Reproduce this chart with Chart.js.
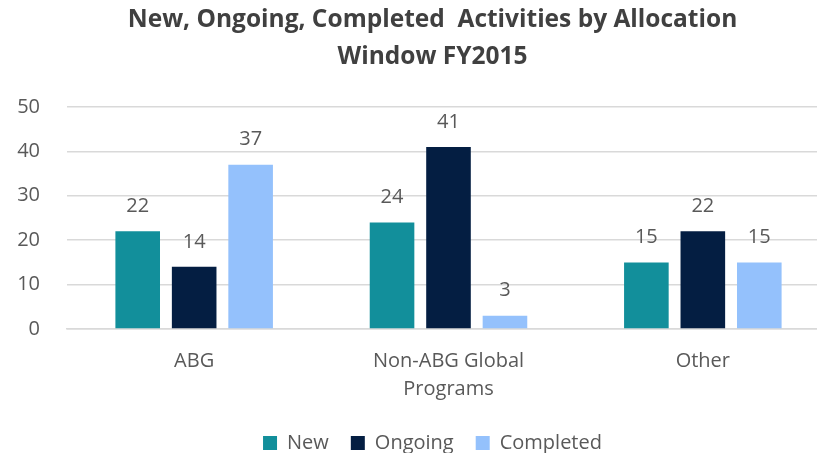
<!DOCTYPE html>
<html>
<head>
<meta charset="utf-8">
<script src="https://cdn.jsdelivr.net/npm/chart.js@4"></script>
<style>
  html, body { margin: 0; padding: 0; background: #ffffff; overflow: hidden; }
  #wrap { width: 817px; height: 453px; overflow: hidden; }
</style>
</head>
<body>
<div id="wrap"><canvas id="chart" width="865" height="453"></canvas></div>
<script>
// data
const categories = ['ABG', ['Non-ABG Global', 'Programs'], 'Other'];
const seriesNames = ['New', 'Ongoing', 'Completed'];
const newValues = [22, 24, 15];
const ongoingValues = [14, 41, 22];
const completedValues = [37, 3, 15];
const yTicks = [0, 10, 20, 30, 40, 50];

const colors = ['#128f9b', '#041e42', '#94c1fc'];
const textGray = '#595959';
const fontFamily = "'Open Sans', sans-serif";

// value labels above the bars
const barLabels = {
    id: 'barLabels',
    afterDatasetsDraw(chart) {
        const ctx = chart.ctx;
        ctx.save();
        ctx.fillStyle = textGray;
        ctx.font = '20px ' + fontFamily;
        ctx.textAlign = 'center';
        ctx.textBaseline = 'middle';
        chart.data.datasets.forEach((ds, i) => {
            chart.getDatasetMeta(i).data.forEach((bar, j) => {
                ctx.fillText(ds.data[j], bar.x, bar.y - 25);
            });
        });
        ctx.restore();
    }
};

new Chart(document.getElementById('chart'), {
    type: 'bar',
    data: {
        labels: categories,
        datasets: [
            { label: seriesNames[0], data: newValues, backgroundColor: colors[0] },
            { label: seriesNames[1], data: ongoingValues, backgroundColor: colors[1] },
            { label: seriesNames[2], data: completedValues, backgroundColor: colors[2] }
        ]
    },
    options: {
        responsive: false,
        animation: false,
        categoryPercentage: 0.666,
        barPercentage: 0.79,
        layout: { padding: { left: 0, right: 0, top: 0, bottom: -10 } },
        plugins: {
            title: {
                display: true,
                text: ['New, Ongoing, Completed  Activities by Allocation', 'Window FY2015'],
                color: '#404040',
                font: { family: fontFamily, size: 24.5, weight: 'bold', lineHeight: 1.51 },
                padding: { top: 1.5, bottom: 31.5 }
            },
            legend: {
                position: 'bottom',
                labels: {
                    color: textGray,
                    font: { family: fontFamily, size: 20 },
                    boxWidth: 14,
                    boxHeight: 14,
                    padding: 22
                }
            },
            tooltip: { enabled: false }
        },
        scales: {
            y: {
                min: 0,
                max: 50,
                afterBuildTicks: axis => { axis.ticks = yTicks.map(v => ({ value: v })); },
                grid: { color: '#d9d9d9', lineWidth: 1.5, drawTicks: false },
                border: { display: false },
                ticks: {
                    color: textGray,
                    font: { family: fontFamily, size: 20 },
                    padding: 27
                },
                afterFit: axis => { axis.width = 67; }
            },
            // empty axis on the right, only keeps the plot clear of the right edge
            spacer: {
                type: 'linear',
                position: 'right',
                grid: { display: false, drawTicks: false },
                border: { display: false },
                ticks: { display: false },
                afterFit: axis => { axis.width = 35; }
            },
            x: {
                grid: { display: false },
                border: { display: true, color: '#d9d9d9', width: 1.5 },
                ticks: {
                    color: textGray,
                    font: { family: fontFamily, size: 20, lineHeight: 1.4 },
                    padding: 10,
                    maxRotation: 0
                },
                afterFit: axis => { axis.height = 82; }
            }
        }
    },
    plugins: [barLabels]
});
</script>
</body>
</html>
